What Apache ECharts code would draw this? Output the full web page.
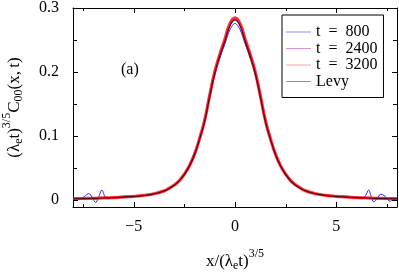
<!DOCTYPE html>
<html>
<head>
<meta charset="utf-8">
<script src="https://cdn.jsdelivr.net/npm/echarts@6/dist/echarts.min.js"></script>
<style>
  html, body { margin: 0; padding: 0; background: #fff; }
  #chart { width: 399px; height: 272px; }
</style>
</head>
<body>
<div id="chart"></div>
<script>
// ---- data ----
const levyX = [-8, -7.5, -7, -6.5, -6, -5.5, -5, -4.5, -4, -3.5, -3.25, -3, -2.75, -2.5, -2.25, -2, -1.75, -1.5, -1.25, -1, -0.75, -0.5, -0.25, 0,
               0.25, 0.5, 0.75, 1, 1.25, 1.5, 1.75, 2, 2.25, 2.5, 2.75, 3, 3.25, 3.5, 4, 4.5, 5, 5.5, 6, 6.5, 7, 7.5, 8];
const levyY = [0.0018, 0.0021, 0.0025, 0.003, 0.0037, 0.0045, 0.0055, 0.007, 0.0095, 0.014, 0.018, 0.023, 0.030, 0.040, 0.053, 0.071, 0.095, 0.123, 0.162, 0.198, 0.225, 0.248, 0.272, 0.281,
               0.272, 0.248, 0.225, 0.198, 0.162, 0.123, 0.095, 0.071, 0.053, 0.040, 0.030, 0.023, 0.018, 0.014, 0.0095, 0.007, 0.0055, 0.0045, 0.0037, 0.003, 0.0025, 0.0021, 0.0018];

const t3200Y = [0.0020, 0.0023, 0.0024, 0.0032, 0.0036, 0.0047, 0.0056, 0.0072, 0.0097, 0.0142, 0.0183, 0.0233, 0.0302, 0.0405, 0.0535, 0.0715, 0.0958, 0.1245, 0.1635, 0.2000, 0.2275, 0.2510, 0.2755, 0.2845,
                0.2755, 0.2510, 0.2275, 0.2000, 0.1635, 0.1245, 0.0958, 0.0715, 0.0535, 0.0405, 0.0302, 0.0233, 0.0183, 0.0142, 0.0097, 0.0072, 0.0056, 0.0047, 0.0036, 0.0032, 0.0024, 0.0023, 0.0020];

const t2400Y = [0.0019, 0.0022, 0.0025, 0.0031, 0.0037, 0.0046, 0.0055, 0.0071, 0.0096, 0.0141, 0.0181, 0.0231, 0.0301, 0.0402, 0.0532, 0.0712, 0.0953, 0.1238, 0.1628, 0.1990, 0.2262, 0.2495, 0.2738, 0.2830,
                0.2738, 0.2495, 0.2262, 0.1990, 0.1628, 0.1238, 0.0953, 0.0712, 0.0532, 0.0402, 0.0301, 0.0231, 0.0181, 0.0141, 0.0096, 0.0071, 0.0055, 0.0046, 0.0037, 0.0031, 0.0025, 0.0022, 0.0019];

const t800X = [-8, -7.8, -7.6, -7.45, -7.22, -7.05, -6.88, -6.75, -6.57, -6.42, -6.3, -6, -5.5, -5, -4.5, -4, -3.5, -3.25, -3, -2.75, -2.5, -2.25, -2, -1.75, -1.5, -1.25, -1, -0.75, -0.5, -0.25, 0,
               0.25, 0.5, 0.75, 1, 1.25, 1.5, 1.75, 2, 2.25, 2.5, 2.75, 3, 3.25, 3.5, 4, 4.5, 5, 5.5, 6, 6.3, 6.45, 6.6, 6.72, 6.85, 7.0, 7.2, 7.35, 7.5, 7.65, 7.8, 8];
const t800Y = [0.001, 0.002, 0.002, 0.005, 0.010, 0.004, -0.004, 0.003, 0.0155, 0.005, 0.002, 0.0035, 0.0044, 0.0054, 0.0068, 0.0093, 0.0138, 0.0178, 0.0228, 0.0296, 0.0396, 0.0525, 0.0705, 0.0945, 0.1225, 0.1605, 0.1955, 0.2215, 0.2440, 0.2660, 0.2760,
               0.2660, 0.2440, 0.2215, 0.1955, 0.1605, 0.1225, 0.0945, 0.0705, 0.0525, 0.0396, 0.0296, 0.0228, 0.0178, 0.0138, 0.0093, 0.0068, 0.0054, 0.0044, 0.0035, 0.003, 0.007, 0.0155, 0.006, -0.003, 0.001, 0.009, 0.007, 0.003, -0.002, 0.001, 0.002];

const seriesNames = ['t\u2002=\u2002800', 't\u2002=\u20022400', 't\u2002=\u20023200', 'Levy'];
const xMajorTicks = [-5, 0, 5];
const xMinorTicks = [-7.5, -2.5, 2.5, 7.5];
const yMajorTicks = [0, 0.1, 0.2, 0.3];
const yMinorTicks = [0.05, 0.15, 0.25];

const X_MIN = -8, X_MAX = 8, Y_MIN = -0.011, Y_MAX = 0.3;

function pairs(xs, ys) { return xs.map((x, i) => [x, ys[i]]); }

const FONT = "'Liberation Serif', 'DejaVu Serif', serif";

const chart = echarts.init(document.getElementById('chart'), null, { renderer: 'canvas' });

const nameStyle = {
  color: '#000', fontFamily: FONT, fontSize: 17,
  rich: {
    n: { fontFamily: FONT, fontSize: 17, color: '#000', lineHeight: 22, verticalAlign: 'bottom' },
    sb: { fontFamily: FONT, fontSize: 12, color: '#000', lineHeight: 22, verticalAlign: 'bottom', padding: [0, 0, -2, 0] },
    sp: { fontFamily: FONT, fontSize: 12, color: '#000', lineHeight: 22, verticalAlign: 'top' }
  }
};

const axisLine = { show: true, onZero: false, lineStyle: { color: '#000', width: 1 } };

const option = {
  animation: false,
  backgroundColor: '#fff',
  grid: { left: 73, right: 2, top: 8, bottom: 65, outerBoundsMode: 'none' },
  xAxis: [
    {
      type: 'value', position: 'bottom', min: X_MIN, max: X_MAX,
      axisLine: axisLine,
      axisTick: { show: true, inside: true, length: 5, customValues: xMajorTicks, lineStyle: { color: '#000', width: 1 } },
      axisLabel: { show: true, customValues: xMajorTicks, margin: 12, color: '#000', fontFamily: FONT, fontSize: 16,
        formatter: v => String(v).replace('-', '\u2212') },
      splitLine: { show: false },
      name: '{n|x/(λ}{sb|e}{n|t)}{sp|3/5}', nameLocation: 'middle', nameGap: 41, nameTextStyle: nameStyle
    },
    { type: 'value', position: 'top', min: X_MIN, max: X_MAX, axisLine: axisLine,
      axisTick: { show: false }, axisLabel: { show: false }, splitLine: { show: false } }
  ],
  yAxis: [
    {
      type: 'value', position: 'left', min: Y_MIN, max: Y_MAX,
      axisLine: axisLine,
      axisTick: { show: true, inside: true, length: 5, customValues: yMajorTicks, lineStyle: { color: '#000', width: 1 } },
      axisLabel: { show: true, customValues: yMajorTicks, margin: 14, color: '#000', fontFamily: FONT, fontSize: 16,
        formatter: v => v === 0 ? '0' : v.toFixed(1) },
      splitLine: { show: false },
      name: '{n|(λ}{sb|e}{n|t)}{sp|3/5}{n|C}{sb|00}{n|(x,\u2009t)}', nameLocation: 'middle', nameRotate: 90, nameGap: 50,
      nameTextStyle: nameStyle
    },
    { type: 'value', position: 'right', min: Y_MIN, max: Y_MAX, axisLine: axisLine,
      axisTick: { show: false }, axisLabel: { show: false }, splitLine: { show: false } }
  ],
  legend: {
    orient: 'vertical', left: 282, top: 15,
    backgroundColor: '#fff', borderColor: '#000', borderWidth: 1, borderRadius: 0,
    padding: [9, 6, 8, 4],
    itemWidth: 25, itemHeight: 1, itemGap: 0.5, icon: 'rect',
    textStyle: { color: '#000', fontFamily: FONT, fontSize: 16, lineHeight: 16 },
    data: [
      { name: seriesNames[0], itemStyle: { color: '#8a8aff' } },
      { name: seriesNames[1], itemStyle: { color: '#d890d8' } },
      { name: seriesNames[2], itemStyle: { color: '#ffa0a0' } },
      { name: seriesNames[3], itemStyle: { color: '#909090' } }
    ]
  },
  series: [
    { name: seriesNames[0], type: 'line', data: pairs(t800X, t800Y), showSymbol: false, smooth: 0.35,
      lineStyle: { color: '#2020ff', width: 1 }, itemStyle: { color: '#2020ff' } },
    { name: seriesNames[1], type: 'line', data: pairs(levyX, t2400Y), showSymbol: false, smooth: true,
      lineStyle: { color: '#c040c0', width: 1.5 }, itemStyle: { color: '#c040c0' } },
    { name: seriesNames[2], type: 'line', data: pairs(levyX, t3200Y), showSymbol: false, smooth: true,
      lineStyle: { color: '#ff1020', width: 3.2, opacity: 0.85 }, itemStyle: { color: '#ff1020' } },
    { name: seriesNames[3], type: 'line', data: pairs(levyX, levyY), showSymbol: false, smooth: true,
      lineStyle: { color: '#300000', width: 1.1, opacity: 0.8 }, itemStyle: { color: '#000' } }
  ]
};
chart.setOption(option);

// tick marks on all four sides, positioned through the library's axis scales
const px = v => chart.convertToPixel({ xAxisIndex: 0 }, v);
const py = v => chart.convertToPixel({ yAxisIndex: 0 }, v);
const yB = py(Y_MIN), yT = py(Y_MAX), xL = px(X_MIN), xR = px(X_MAX);
const tickStyle = { stroke: '#000', lineWidth: 1 };
const ticks = [];
function addX(values, len) {
  values.forEach(v => {
    const x = Math.round(px(v)) + 0.5;
    ticks.push({ type: 'line', z: 100, silent: true, shape: { x1: x, y1: yB, x2: x, y2: yB - len }, style: tickStyle });
    ticks.push({ type: 'line', z: 100, silent: true, shape: { x1: x, y1: yT, x2: x, y2: yT + len }, style: tickStyle });
  });
}
function addY(values, len) {
  values.forEach(v => {
    const y = Math.round(py(v)) + 0.5;
    ticks.push({ type: 'line', z: 100, silent: true, shape: { x1: xL, y1: y, x2: xL + len, y2: y }, style: tickStyle });
    ticks.push({ type: 'line', z: 100, silent: true, shape: { x1: xR, y1: y, x2: xR - len, y2: y }, style: tickStyle });
  });
}
addX(xMajorTicks, 5);
addX(xMinorTicks, 3);
addY(yMajorTicks, 5);
addY(yMinorTicks, 4);

chart.setOption({
  graphic: [
    { type: 'text', left: 121, top: 62, z: 100, style: { text: '(a)', fontFamily: FONT, fontSize: 16, fill: '#000' } }
  ].concat(ticks)
});
</script>
</body>
</html>
